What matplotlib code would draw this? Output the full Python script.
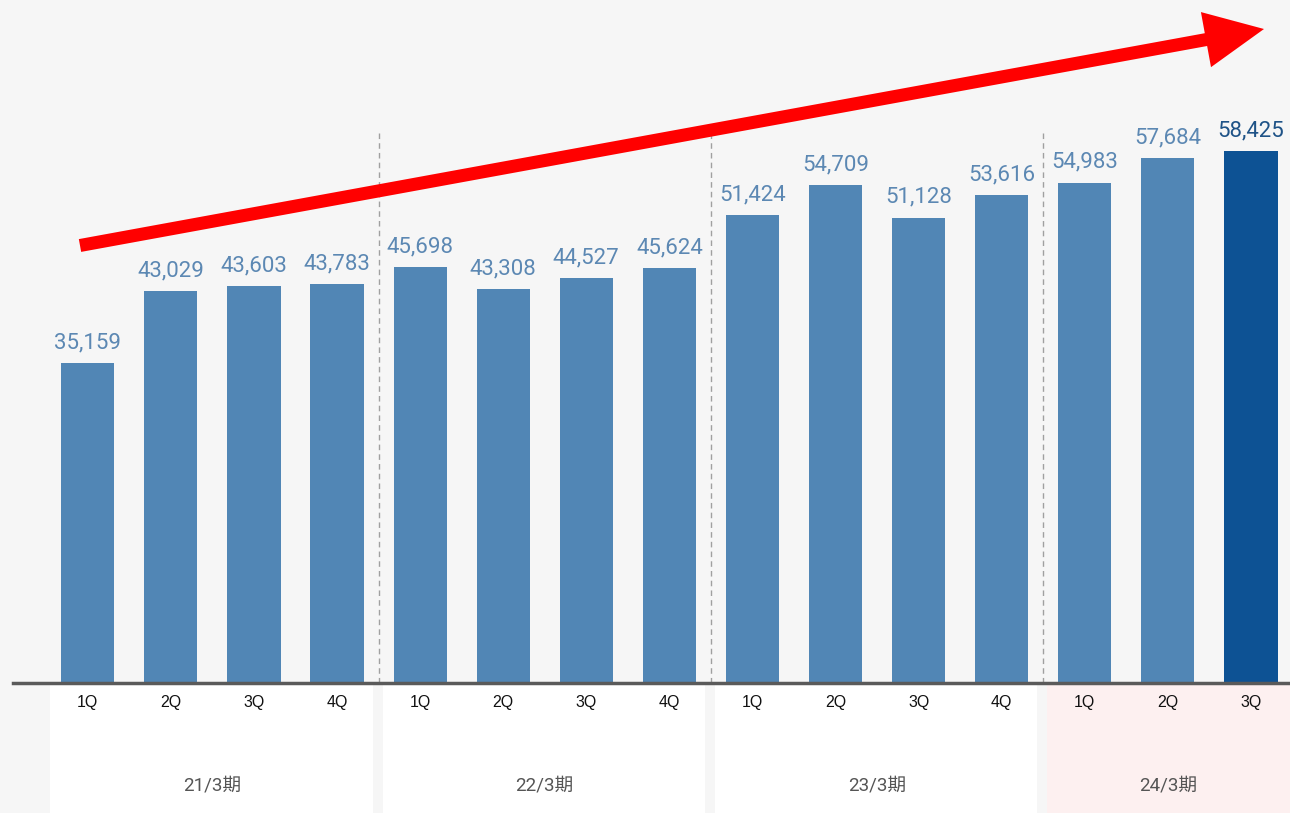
import numpy as np
import matplotlib.pyplot as plt
from matplotlib.patches import FancyArrow, Rectangle
from matplotlib.transforms import blended_transform_factory

quarters = ["1Q", "2Q", "3Q", "4Q", "1Q", "2Q", "3Q", "4Q",
            "1Q", "2Q", "3Q", "4Q", "1Q", "2Q", "3Q"]
sales = [35159, 43029, 43603, 43783, 45698, 43308, 44527, 45624,
         51424, 54709, 51128, 53616, 54983, 57684, 58425]
periods = ["21/3期", "22/3期", "23/3期", "24/3期"]
period_start = [0, 4, 8, 12]
period_end = [3, 7, 11, 14]

bg = "#f6f6f6"
bar_col = "#5186b5"
last_col = "#0d5294"

plt.rcParams['font.family'] = ['Roboto', 'Noto Sans CJK JP', 'DejaVu Sans']

fig = plt.figure(figsize=(12.9, 8.13), dpi=100, facecolor=bg)
ax = fig.add_axes([13 / 1290, 130 / 813, 1277 / 1290, 683 / 813])
ax.set_facecolor(bg)
ax.set_zorder(2)

x = np.arange(len(sales))
colors = [bar_col] * (len(sales) - 1) + [last_col]
ax.bar(x, sales, width=0.64, color=colors, zorder=3)

for i, v in enumerate(sales):
    last = i == len(sales) - 1
    ax.annotate(f"{v:,}", (i, v), xytext=(0, 7), textcoords="offset points",
                ha="center", va="bottom", fontsize=16,
                color="#1f5387" if last else "#5c88b3")

ax.set_xlim(-0.9, 14.47)
ax.set_ylim(0, 75040)
for s in ["top", "right", "left"]:
    ax.spines[s].set_visible(False)
ax.spines["bottom"].set_color("#5a5a5a")
ax.spines["bottom"].set_linewidth(2.5)
ax.spines["bottom"].set_zorder(5)
ax.set_yticks([])
ax.set_xticks([])

# dashed separators between fiscal years
for s in period_start[1:]:
    ax.axvline(s - 0.5, ymin=0, ymax=0.81, color="#a0a0a0", lw=1,
               ls=(0, (4, 3)), zorder=2)

# period boxes and labels below the axis
trans = blended_transform_factory(ax.transData, fig.transFigure)
for k, (name, a, b) in enumerate(zip(periods, period_start, period_end)):
    left = a - 0.45
    right = b + 0.43 if k < len(periods) - 1 else 15.5
    face = "#fdf0f0" if k == len(periods) - 1 else "white"
    fig.patches.append(Rectangle((left, 0), right - left, 128 / 813,
                                 transform=trans, facecolor=face,
                                 edgecolor="none", zorder=-1))
    fig.text((a + b) / 2, 28 / 813, name, transform=trans, ha="center",
             va="center", fontsize=13.5, color="#555555")

for i, q in enumerate(quarters):
    fig.text(i, 111 / 813, q, transform=trans, ha="center", va="center",
             fontsize=11.5, color="#111111", family=["Liberation Sans"])

# growth arrow
ov = fig.add_axes([0, 0, 1, 1], facecolor="none")
ov.set_zorder(3)
ov.set_xlim(0, 1290)
ov.set_ylim(813, 0)
ov.axis("off")
ov.add_patch(FancyArrow(80, 245.5, 1264 - 80, 29 - 245.5, width=13,
                        head_width=56, head_length=59,
                        length_includes_head=True, color="#ff0000", lw=0))

fig.savefig("out.png", dpi=100, facecolor=bg)
